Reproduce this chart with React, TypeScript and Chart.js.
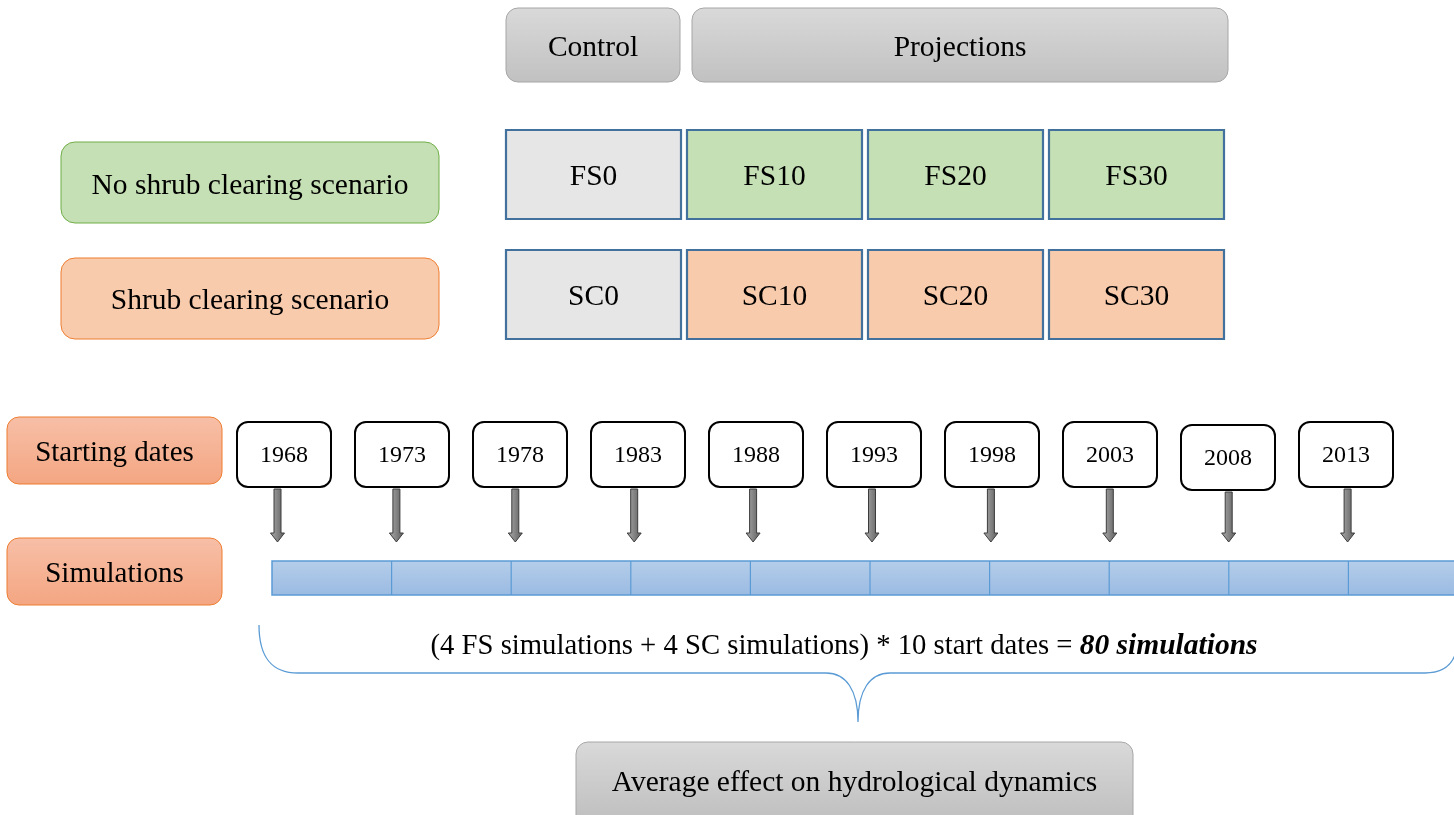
import React, { useEffect, useRef } from "react";
import { Chart, registerables } from "chart.js";

Chart.register(...registerables);

// ---- content ----
const headerLabels = ["Control", "Projections"];
const scenarioLabels = ["No shrub clearing scenario", "Shrub clearing scenario"];
const fsRuns = ["FS0", "FS10", "FS20", "FS30"];
const scRuns = ["SC0", "SC10", "SC20", "SC30"];
const stepLabels = ["Starting dates", "Simulations"];
const startDates = ["1968", "1973", "1978", "1983", "1988", "1993", "1998", "2003", "2008", "2013"];
const formulaText = "(4 FS simulations + 4 SC simulations) * 10 start dates = ";
const resultText = "80 simulations";
const summaryLabel = "Average effect on hydrological dynamics";

const SERIF = '"Liberation Serif", "Times New Roman", serif';

function roundRect(ctx: CanvasRenderingContext2D, x: number, y: number, w: number, h: number, r: number) {
  ctx.beginPath();
  ctx.moveTo(x + r, y);
  ctx.lineTo(x + w - r, y);
  ctx.arcTo(x + w, y, x + w, y + r, r);
  ctx.lineTo(x + w, y + h - r);
  ctx.arcTo(x + w, y + h, x + w - r, y + h, r);
  ctx.lineTo(x + r, y + h);
  ctx.arcTo(x, y + h, x, y + h - r, r);
  ctx.lineTo(x, y + r);
  ctx.arcTo(x, y, x + r, y, r);
  ctx.closePath();
}

const diagramPlugin = {
  id: "diagram",
  afterDraw(chart: any) {
    const ctx: CanvasRenderingContext2D = chart.ctx;
    const xs = chart.scales.x;
    const ys = chart.scales.y;
    const X = (v: number) => xs.getPixelForValue(v);
    const Y = (v: number) => ys.getPixelForValue(v);

    const box = (
      x0: number, y0: number, x1: number, y1: number, r: number,
      fill: string | CanvasGradient, stroke: string, lw: number
    ) => {
      const px0 = X(x0), py0 = Y(y0), px1 = X(x1), py1 = Y(y1);
      if (r > 0) roundRect(ctx, px0, py0, px1 - px0, py1 - py0, r);
      else { ctx.beginPath(); ctx.rect(px0, py0, px1 - px0, py1 - py0); }
      ctx.fillStyle = fill;
      ctx.fill();
      ctx.lineWidth = lw;
      ctx.strokeStyle = stroke;
      ctx.stroke();
    };
    const vgrad = (y0: number, y1: number, c0: string, c1: string) => {
      const g = ctx.createLinearGradient(0, Y(y0), 0, Y(y1));
      g.addColorStop(0, c0);
      g.addColorStop(1, c1);
      return g;
    };
    const text = (s: string, x: number, y: number, size: number, style = "") => {
      ctx.font = `${style} ${size}px ${SERIF}`;
      ctx.fillStyle = "#000";
      ctx.textAlign = "center";
      ctx.textBaseline = "middle";
      ctx.fillText(s, X(x), Y(y));
    };

    ctx.save();

    // header boxes
    box(506, 8, 680, 82, 12, vgrad(8, 82, "#d9d9d9", "#c1c1c1"), "#a6a6a6", 1);
    text(headerLabels[0], 593, 48, 29.5);
    box(692, 8, 1228, 82, 12, vgrad(8, 82, "#d9d9d9", "#c1c1c1"), "#a6a6a6", 1);
    text(headerLabels[1], 960, 48, 29.5);

    // scenario labels
    box(61, 142, 439, 223, 14, "#c5e0b4", "#70ad47", 1);
    text(scenarioLabels[0], 250, 186, 29.5);
    box(61, 258, 439, 339, 14, "#f8cbad", "#ed7d31", 1);
    text(scenarioLabels[1], 250, 301, 29.5);

    // run grid
    const rows = [
      { labels: fsRuns, y0: 130, y1: 219, color: "#c5e0b4" },
      { labels: scRuns, y0: 250, y1: 339, color: "#f8cbad" },
    ];
    rows.forEach((row) => {
      row.labels.forEach((lab, i) => {
        const x0 = 506 + i * 181;
        const x1 = x0 + 175;
        box(x0, row.y0, x1, row.y1, 0, i === 0 ? "#e7e6e6" : row.color, "#41719c", 2.2);
        text(lab, (x0 + x1) / 2, (row.y0 + row.y1) / 2 + 3, 29.5);
      });
    });

    // step labels
    box(7, 417, 222, 484, 12, vgrad(417, 484, "#f7bfa7", "#f4a682"), "#ed7d31", 1);
    text(stepLabels[0], 114.5, 453, 29);
    box(7, 538, 222, 605, 12, vgrad(538, 605, "#f7bfa7", "#f4a682"), "#ed7d31", 1);
    text(stepLabels[1], 114.5, 574, 29);

    // simulation bar
    box(272, 561, 1470, 595, 0, vgrad(561, 595, "#b4cdea", "#9bbbe2"), "#5b9bd5", 1.5);
    ctx.strokeStyle = "#5b9bd5";
    ctx.lineWidth = 1.2;
    for (let k = 1; k < startDates.length; k++) {
      const dx = X(272 + k * 119.6);
      ctx.beginPath();
      ctx.moveTo(dx, Y(561));
      ctx.lineTo(dx, Y(595));
      ctx.stroke();
    }

    // start date boxes + arrows
    startDates.forEach((d, i) => {
      const cx = 284 + i * 118;
      const dy = i === 8 ? 3 : 0;
      box(cx - 47, 422 + dy, cx + 47, 487 + dy, 11, "#ffffff", "#000000", 2);
      text(d, cx, 456 + dy, 24);

      const ax = 277.5 + i * 118.9;
      const top = 489 + dy;
      ctx.beginPath();
      ctx.moveTo(X(ax - 3.5), Y(top));
      ctx.lineTo(X(ax + 3.5), Y(top));
      ctx.lineTo(X(ax + 3.5), Y(533));
      ctx.lineTo(X(ax + 7), Y(533));
      ctx.lineTo(X(ax), Y(542));
      ctx.lineTo(X(ax - 7), Y(533));
      ctx.lineTo(X(ax - 3.5), Y(533));
      ctx.closePath();
      const g = ctx.createLinearGradient(X(ax - 4), 0, X(ax + 4), 0);
      g.addColorStop(0, "#9a9a9a");
      g.addColorStop(1, "#6e6e6e");
      ctx.fillStyle = g;
      ctx.fill();
      ctx.lineWidth = 1;
      ctx.strokeStyle = "#3c3c3c";
      ctx.stroke();
    });

    // formula text
    const plainFont = `28.7px ${SERIF}`;
    const boldFont = `italic bold 29.5px ${SERIF}`;
    ctx.font = plainFont;
    const w1 = ctx.measureText(formulaText).width;
    ctx.font = boldFont;
    const w2 = ctx.measureText(resultText).width;
    const startX = X(844) - (w1 + w2) / 2;
    ctx.textAlign = "left";
    ctx.textBaseline = "alphabetic";
    ctx.fillStyle = "#000";
    ctx.font = plainFont;
    ctx.fillText(formulaText, startX, Y(654));
    ctx.font = boldFont;
    ctx.fillText(resultText, startX + w1, Y(654));

    // brace
    ctx.strokeStyle = "#5b9bd5";
    ctx.lineWidth = 1.3;
    ctx.beginPath();
    ctx.moveTo(X(259), Y(625));
    ctx.bezierCurveTo(X(259), Y(658), X(272), Y(673), X(298), Y(673));
    ctx.lineTo(X(826), Y(673));
    ctx.bezierCurveTo(X(846), Y(673), X(858), Y(690), X(858), Y(722));
    ctx.moveTo(X(858), Y(722));
    ctx.bezierCurveTo(X(858), Y(690), X(870), Y(673), X(890), Y(673));
    ctx.lineTo(X(1425), Y(673));
    ctx.bezierCurveTo(X(1442), Y(673), X(1452), Y(666), X(1456), Y(652));
    ctx.stroke();

    // summary box
    box(576, 742, 1133, 840, 12, vgrad(742, 815, "#d9d9d9", "#c1c1c1"), "#a6a6a6", 1);
    text(summaryLabel, 854.5, 783, 29.5);

    ctx.restore();
  },
};

export default function App() {
  const ref = useRef<HTMLCanvasElement | null>(null);
  useEffect(() => {
    document.body.style.margin = "0";
    const canvas = ref.current;
    if (!canvas) return;
    const chart = new Chart(canvas, {
      type: "scatter",
      data: { datasets: [{ data: [] }] },
      options: {
        animation: false,
        responsive: false,
        devicePixelRatio: 1,
        layout: { padding: 0 },
        plugins: { legend: { display: false }, tooltip: { enabled: false } },
        scales: {
          x: { type: "linear", min: 0, max: 1454, display: false },
          y: { type: "linear", min: 0, max: 815, reverse: true, display: false },
        },
      },
      plugins: [diagramPlugin],
    });
    return () => chart.destroy();
  }, []);
  return (
    <div style={{ position: "fixed", left: 0, top: 0, width: 1454, height: 815, background: "#fff" }}>
      <canvas ref={ref} width={1454} height={815} style={{ display: "block" }} />
    </div>
  );
}
